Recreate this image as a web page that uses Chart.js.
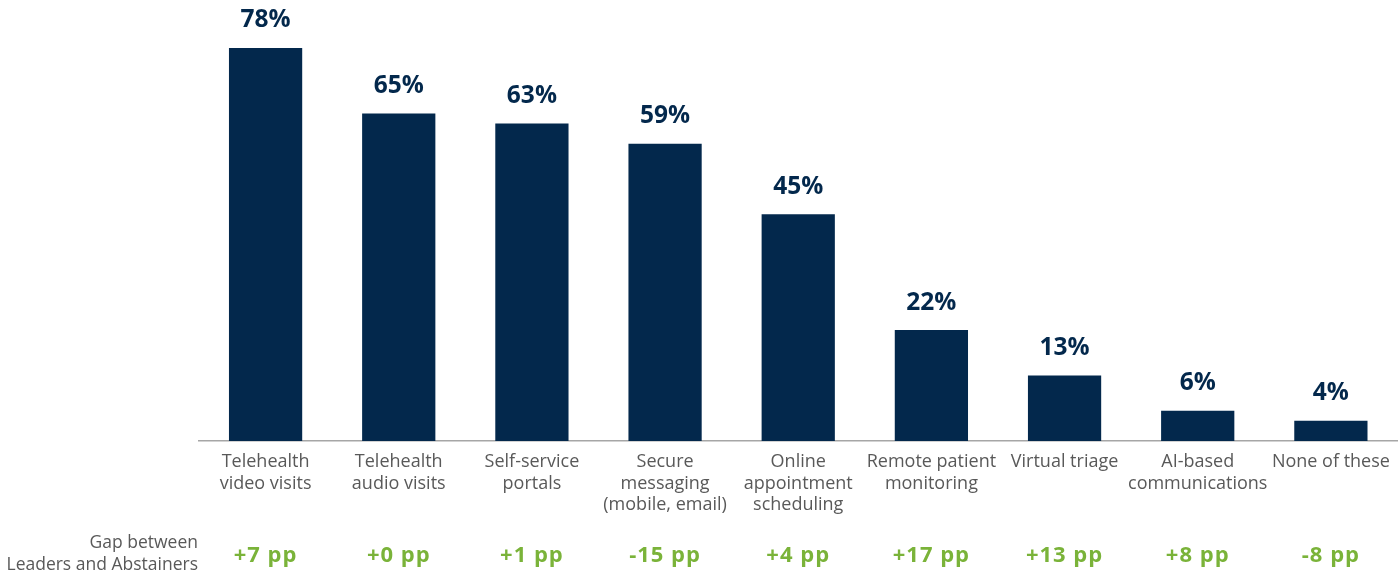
<!DOCTYPE html>
<html>
<head>
<meta charset="utf-8">
<script src="https://cdn.jsdelivr.net/npm/chart.js@4"></script>
<style>
  html, body { margin: 0; padding: 0; background: #ffffff; }
  #wrap { width: 1400px; height: 575px; }
</style>
</head>
<body>
<div id="wrap"><canvas id="chart" width="1400" height="575"></canvas></div>
<script>
// Digital access tools in use, share of respondents (%)
const categories = [
  ["Telehealth", "video visits"],
  ["Telehealth", "audio visits"],
  ["Self-service", "portals"],
  ["Secure", "messaging", "(mobile, email)"],
  ["Online", "appointment", "scheduling"],
  ["Remote patient", "monitoring"],
  ["Virtual triage"],
  ["AI-based", "communications"],
  ["None of these"]
];
const shares = [78, 65, 63, 59, 45, 22, 13, 6, 4];
// Gap between Leaders and Abstainers, percentage points
const gapPoints = [7, 0, 1, -15, 4, 17, 13, 8, -8];
const gapTitle = ["Gap between", "Leaders and Abstainers"];

const FONT = "'Open Sans', 'Noto Sans', sans-serif";
const NAVY = "#03284c";
const GREEN = "#7ab339";
const GREY_TEXT = "#595959";

const fmtGap = v => (v < 0 ? "-" : "+") + Math.abs(v) + " pp";

const valueLabels = {
  id: "valueLabels",
  afterDatasetsDraw(chart) {
    const ctx = chart.ctx;
    const meta = chart.getDatasetMeta(0);
    ctx.save();
    ctx.font = "bold 24.5px " + FONT;
    ctx.fillStyle = NAVY;
    ctx.textAlign = "center";
    ctx.textBaseline = "middle";
    meta.data.forEach((bar, i) => {
      ctx.fillText(shares[i] + "%", bar.x, bar.y - 27.5);
    });
    ctx.restore();
  }
};

const gapRow = {
  id: "gapRow",
  afterDraw(chart) {
    const ctx = chart.ctx;
    const xs = chart.scales.x;
    ctx.save();
    ctx.textBaseline = "middle";
    ctx.font = "17.5px " + FONT;
    ctx.fillStyle = GREY_TEXT;
    ctx.textAlign = "right";
    ctx.fillText(gapTitle[0], 198, 543);
    ctx.fillText(gapTitle[1], 198, 565);
    ctx.font = "bold 22px " + FONT;
    ctx.letterSpacing = "1px";
    ctx.fillStyle = GREEN;
    ctx.textAlign = "center";
    gapPoints.forEach((v, i) => {
      ctx.fillText(fmtGap(v), xs.getPixelForValue(i), 556);
    });
    ctx.restore();
  }
};

new Chart(document.getElementById("chart"), {
  type: "bar",
  data: {
    labels: categories,
    datasets: [{
      data: shares,
      backgroundColor: NAVY,
      barPercentage: 0.55,
      categoryPercentage: 1.0
    }]
  },
  options: {
    responsive: false,
    animation: false,
    layout: { padding: { left: 199, right: 2, top: 0, bottom: 0 } },
    plugins: { legend: { display: false }, tooltip: { enabled: false } },
    scales: {
      y: {
        display: false,
        min: 0,
        max: 87.5
      },
      x: {
        grid: { display: false, drawTicks: false },
        border: { display: true, color: "#a6a6a6", width: 1.5 },
        ticks: {
          color: GREY_TEXT,
          font: { family: FONT, size: 18, lineHeight: 1.2 },
          padding: 10,
          maxRotation: 0,
          autoSkip: false
        },
        afterFit(scale) { scale.height = 134; }
      }
    }
  },
  plugins: [valueLabels, gapRow]
});
</script>
</body>
</html>
